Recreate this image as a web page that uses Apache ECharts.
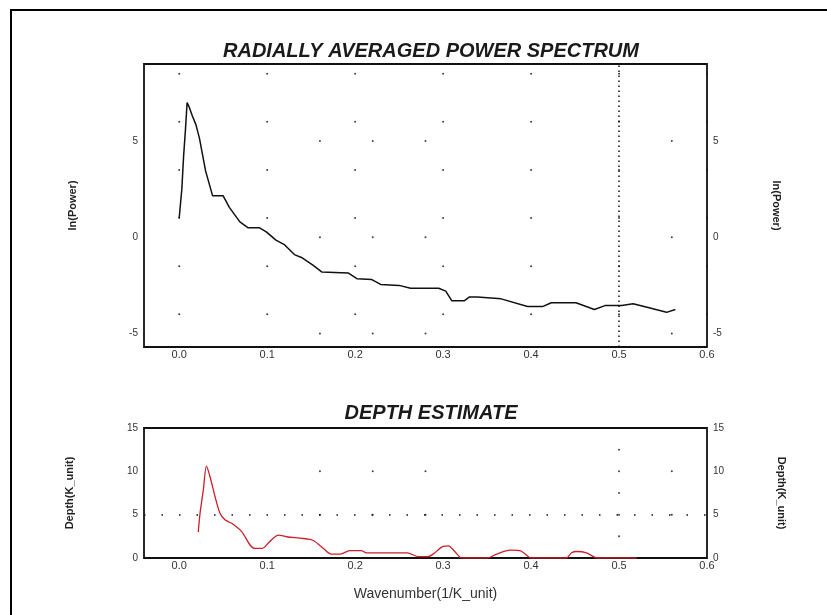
<!DOCTYPE html>
<html>
<head>
<meta charset="utf-8">
<script src="https://cdn.jsdelivr.net/npm/echarts@6/dist/echarts.min.js"></script>
<style>
body { margin: 0; background: #fff; }
#chart { width: 827px; height: 615px; }
</style>
</head>
<body>
<div id="chart"></div>
<script>
// wavenumber / ln(power) of the radially averaged spectrum
var specK = [0.0, 0.0015, 0.003, 0.005, 0.007, 0.009, 0.011, 0.015, 0.019, 0.023, 0.030, 0.038, 0.050, 0.057, 0.069, 0.078, 0.091, 0.099, 0.110, 0.120, 0.131, 0.139, 0.152, 0.162, 0.192, 0.202, 0.219, 0.229, 0.250, 0.263, 0.295, 0.303, 0.310, 0.324, 0.330, 0.339, 0.366, 0.396, 0.413, 0.423, 0.451, 0.472, 0.484, 0.503, 0.516, 0.533, 0.554, 0.564];
var specP = [1.0, 1.0, 2.5, 4.2, 5.5, 7.0, 6.8, 6.3, 5.85, 5.15, 3.45, 2.15, 2.15, 1.55, 0.8, 0.5, 0.5, 0.28, -0.15, -0.4, -0.9, -1.05, -1.45, -1.8, -1.85, -2.15, -2.2, -2.45, -2.5, -2.65, -2.65, -2.8, -3.3, -3.3, -3.1, -3.1, -3.2, -3.6, -3.6, -3.4, -3.4, -3.75, -3.55, -3.55, -3.45, -3.65, -3.9, -3.75];

// wavenumber / depth estimate
var depthK = [0.0217, 0.0237, 0.0274, 0.031, 0.035, 0.0407, 0.0464, 0.052, 0.0597, 0.071, 0.0805, 0.086, 0.094, 0.103, 0.113, 0.122, 0.141, 0.152, 0.164, 0.173, 0.183, 0.194, 0.207, 0.213, 0.259, 0.272, 0.283, 0.290, 0.300, 0.306, 0.312, 0.319, 0.322, 0.35, 0.361, 0.376, 0.387, 0.397, 0.40, 0.44, 0.446, 0.452, 0.463, 0.471, 0.475, 0.52];
var depthV = [3.0, 5.15, 7.8, 10.6, 9.4, 7.1, 5.15, 4.4, 4.0, 3.05, 1.5, 1.1, 1.1, 1.9, 2.65, 2.45, 2.25, 2.05, 1.1, 0.45, 0.45, 0.85, 0.85, 0.6, 0.6, 0.15, 0.15, 0.55, 1.35, 1.4, 0.9, 0.1, 0, 0, 0.45, 0.9, 0.85, 0.15, 0, 0, 0.6, 0.75, 0.6, 0.15, 0, 0];

// tick labels
var kTicks = [0, 0.1, 0.2, 0.3, 0.4, 0.5, 0.6];
var pTicks = [-5, 0, 5];
var dTicks = [0, 5, 10, 15];

// dotted grid marks of the original plot
var topDotX = [0, 0.1, 0.2, 0.3, 0.4, 0.5, 0.6];
var topDotY = [8.5, 6, 3.5, 1, -1.5, -4];
var topDot2X = [0.16, 0.22, 0.28, 0.56];
var topDot2Y = [5, 0, -5];
var botDotX = [0.16, 0.22, 0.28, 0.56];
var botDotY = [15, 10, 5];
var botMidX = [0.5];
var botMidY = [15, 12.5, 10, 7.5, 5, 2.5];

function cross(xs, ys) {
	var out = [];
	for (var i = 0; i < xs.length; i++) {
		for (var j = 0; j < ys.length; j++) {
			out.push([xs[i], ys[j]]);
		}
	}
	return out;
}
function pairs(xs, ys) {
	var out = [];
	for (var i = 0; i < xs.length; i++) out.push([xs[i], ys[i]]);
	return out;
}

var font = 'Liberation Sans';
var lab = { fontFamily: font, fontSize: 10, color: '#333' };
var nameStyle = { fontFamily: font, fontSize: 11, color: '#222', fontWeight: 'bold' };
var titleStyle = { fontFamily: font, fontSize: 20, fontWeight: 'bold', fontStyle: 'italic', color: '#1a1a1a' };

function xAx(idx, showLabel) {
	return {
		type: 'value', gridIndex: idx, min: -0.04, max: 0.6,
		axisLine: { show: false }, axisTick: { show: false }, splitLine: { show: false },
		axisLabel: Object.assign({
			show: showLabel, margin: 2, customValues: kTicks,
			formatter: function(v) { return v.toFixed(1); }
		}, lab, { fontSize: 11 })
	};
}
function yAx(idx, pos, min, max, ticks, name, rot, gap) {
	return {
		type: 'value', gridIndex: idx, position: pos, min: min, max: max,
		name: name, nameLocation: 'middle', nameRotate: rot, nameGap: gap, nameTextStyle: nameStyle,
		axisLine: { show: false }, axisTick: { show: false }, splitLine: { show: false },
		axisLabel: Object.assign({ margin: 6, customValues: ticks }, lab)
	};
}
function dots(xi, yi, data) {
	return {
		type: 'scatter', xAxisIndex: xi, yAxisIndex: yi, data: data, symbolSize: 2,
		itemStyle: { color: '#111' }, silent: true, z: 1
	};
}

var myChart = echarts.init(document.getElementById('chart'));
myChart.setOption({
	animation: false,
	backgroundColor: '#fff',
	graphic: [{
		type: 'rect', shape: { x: 11, y: 10, width: 900, height: 700 },
		style: { fill: 'none', stroke: '#000', lineWidth: 2 }, silent: true
	}],
	title: [
		{ text: 'RADIALLY AVERAGED POWER SPECTRUM', left: 426, top: 36, textAlign: 'center', textStyle: titleStyle },
		{ text: 'DEPTH ESTIMATE', left: 426, top: 398, textAlign: 'center', textStyle: titleStyle }
	],
	grid: [
		{ left: 144, top: 64, width: 563, height: 283, show: true, borderColor: '#111', borderWidth: 1.8 },
		{ left: 144, top: 428, width: 563, height: 130, show: true, borderColor: '#111', borderWidth: 1.8 }
	],
	xAxis: [
		xAx(0, true),
		Object.assign(xAx(1, true), {
			name: 'Wavenumber(1/K_unit)', nameLocation: 'middle', nameGap: 29,
			nameTextStyle: { fontFamily: font, fontSize: 14, color: '#333' }
		})
	],
	yAxis: [
		yAx(0, 'left', -5.7, 9, pTicks, 'ln(Power)', 90, 66),
		yAx(0, 'right', -5.7, 9, pTicks, 'ln(Power)', -90, 64),
		yAx(1, 'left', 0, 15, dTicks, 'Depth(K_unit)', 90, 69),
		yAx(1, 'right', 0, 15, dTicks, 'Depth(K_unit)', -90, 69)
	],
	series: [
		dots(0, 0, cross(topDotX, topDotY)),
		dots(0, 0, cross(topDot2X, topDot2Y)),
		dots(1, 2, cross(botDotX, botDotY)),
		dots(1, 2, cross(botMidX, botMidY)),
		{
			type: 'line', xAxisIndex: 0, yAxisIndex: 0, data: pairs(specK, specP),
			showSymbol: false, lineStyle: { color: '#111', width: 1.5 }, z: 3,
			markLine: {
				silent: true, symbol: 'none', label: { show: false },
				lineStyle: { color: '#111', type: [1.5, 3.5], width: 1.5 },
				data: [{ xAxis: 0.5 }]
			}
		},
		{
			type: 'line', xAxisIndex: 1, yAxisIndex: 2, data: pairs(depthK, depthV),
			showSymbol: false, smooth: 0.3, lineStyle: { color: '#cc1f2a', width: 1.3 }, z: 3,
			markLine: {
				silent: true, symbol: 'none', label: { show: false },
				lineStyle: { color: '#111', type: [1.5, 16], width: 1.5 },
				data: [{ yAxis: 5 }]
			}
		}
	]
});
</script>
</body>
</html>
